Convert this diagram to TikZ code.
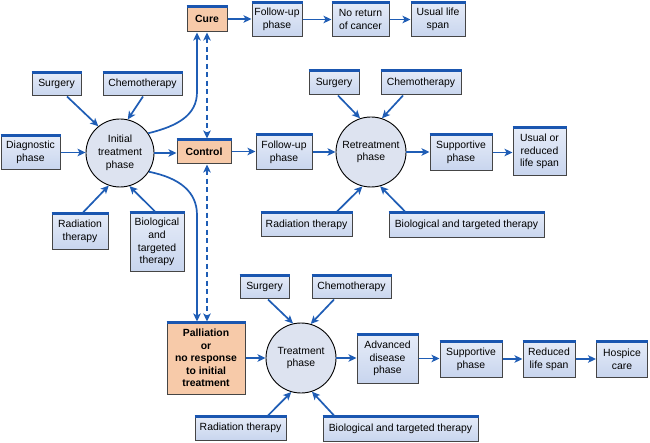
\documentclass[tikz,border=0pt]{standalone}
\usepackage{fontspec}
\setmainfont{Liberation Sans}
\usetikzlibrary{arrows.meta,calc}
\definecolor{arrblue}{HTML}{1F5DB5}
\definecolor{barblue}{HTML}{1A56B0}
\definecolor{boxtop}{HTML}{E6ECF8}
\definecolor{boxbot}{HTML}{C8D5EE}
\definecolor{orangefill}{HTML}{F7CAA9}
\definecolor{circfill}{HTML}{DDE3F0}
\definecolor{boxline}{HTML}{454545}
\begin{document}
\begin{tikzpicture}[x=1pt,y=-1pt,
  font=\fontsize{10.4}{12.8}\selectfont,
  boxbase/.style args={#1/#2}{draw=boxline, line width=1pt, minimum width=#1, minimum height=#2,
    inner sep=0pt, align=center},
  bx/.style={boxbase=#1, top color=boxtop, bottom color=boxbot},
  ob/.style={boxbase=#1, fill=orangefill},
  circ/.style={circle, draw=black, line width=0.9pt, fill=circfill, minimum size=#1, inner sep=0pt, align=center},
  topbar/.style={draw=barblue, line width=3pt},
  arr/.style={draw=arrblue, line width=1.7pt, -{Stealth[length=8pt,width=7.5pt,inset=2pt]}},
  darr/.style={draw=arrblue, line width=1.7pt, dash pattern=on 5pt off 3.5pt,
    {Stealth[length=8pt,width=7.5pt,inset=2pt]}-{Stealth[length=8pt,width=7.5pt,inset=2pt]}}
]
\useasboundingbox (0,0) rectangle (650,443);

% top row
\node[ob=40pt/26pt] (cure) at (207,19) {\textbf{Cure}};
\node[bx=50pt/35pt] (fu1) at (277,19.5) {Follow-up\\phase};
\node[bx=57pt/35pt] (noret) at (360.5,19.5) {No return\\of cancer};
\node[bx=54pt/35pt] (usual1) at (438,19.5) {Usual life\\span};

% initial treatment
\node[bx=49pt/24pt] (surg1) at (56.5,84) {Surgery};
\node[bx=79pt/24pt] (chemo1) at (142.5,84) {Chemotherapy};
\node[bx=59pt/35pt] (diag) at (30.5,152.5) {Diagnostic\\phase};
\node[circ=68pt] (init) at (120,153) {Initial\\treatment\\phase};
\node[bx=56pt/37pt] (rad1) at (80,231.5) {Radiation\\therapy};
\node[bx=54pt/60pt] (bio1) at (157,242) {Biological\\and\\targeted\\therapy};
\node[ob=54pt/25pt] (control) at (204,151.5) {\textbf{Control}};

% retreatment
\node[bx=56pt/36pt] (fu2) at (284,152) {Follow-up\\phase};
\node[circ=70pt] (retr) at (371,152) {Retreatment\\phase};
\node[bx=50pt/25pt] (surg2) at (334,82.5) {Surgery};
\node[bx=80pt/25pt] (chemo2) at (421,82.5) {Chemotherapy};
\node[bx=62pt/37pt] (supp1) at (461,152.5) {Supportive\\phase};
\node[bx=53pt/49pt] (usual2) at (539.5,151.5) {Usual or\\reduced\\life span};
\node[bx=91pt/25pt] (rad2) at (306.5,224.5) {Radiation therapy};
\node[bx=155pt/26pt] (bio2) at (466.5,225) {Biological and targeted therapy};

% palliation
\node[ob=78pt/72pt, font=\fontsize{10.4}{12.5}\selectfont\bfseries] (pall) at (206,358) {Palliation\\or\\no response\\to initial\\treatment};
\node[circ=70pt] (treat) at (301,358) {Treatment\\phase};
\node[bx=49pt/24pt] (surg3) at (264.5,287) {Surgery};
\node[bx=79pt/24pt] (chemo3) at (351.5,287) {Chemotherapy};
\node[bx=61pt/49pt] (adv) at (387.5,358.5) {Advanced\\disease\\phase};
\node[bx=62pt/36pt] (supp2) at (471,359) {Supportive\\phase};
\node[bx=52pt/36pt] (red) at (549,359) {Reduced\\life span};
\node[bx=51pt/36pt] (hosp) at (622,359) {Hospice\\care};
\node[bx=91pt/24pt] (rad3) at (240.5,428) {Radiation therapy};
\node[bx=155pt/25pt] (bio3) at (400.5,428.5) {Biological and targeted therapy};

% blue top bars
\foreach \n in {cure,fu1,noret,usual1,surg1,chemo1,diag,rad1,bio1,control,fu2,surg2,chemo2,supp1,usual2,rad2,bio2,pall,surg3,chemo3,adv,supp2,red,hosp,rad3,bio3}
  \draw[topbar] ([yshift=-1pt]\n.north west) -- ([yshift=-1pt]\n.north east);

\coordinate (vx) at (197,0);

% horizontal chains
\draw[arr] (cure.east) -- (cure.east -| fu1.west);
\draw[arr] (fu1.east) -- (fu1.east -| noret.west);
\draw[arr] (noret.east) -- (noret.east -| usual1.west);
\draw[arr] (diag.east) -- (diag.east -| init.west);
\draw[arr] (init.east) -- (init.east -| control.west);
\draw[arr] (control.east) -- (control.east -| fu2.west);
\draw[arr] (fu2.east) -- (fu2.east -| retr.west);
\draw[arr] (retr.east) -- (retr.east -| supp1.west);
\draw[arr] (supp1.east) -- (supp1.east -| usual2.west);
\draw[arr] (pall.east) -- (pall.east -| treat.west);
\draw[arr] (treat.east) -- (treat.east -| adv.west);
\draw[arr] (adv.east) -- (adv.east -| supp2.west);
\draw[arr] (supp2.east) -- (supp2.east -| red.west);
\draw[arr] (red.east) -- (red.east -| hosp.west);

% inputs to initial treatment
\draw[arr] ($(surg1.south)+(10.5,0)$) -- (init.129);
\draw[arr] ($(chemo1.south)+(0.5,0)$) -- (init.77);
\draw[arr] ($(rad1.north)+(3,0)$) -- (init.-109);
\draw[arr] ($(bio1.north)+(-2,0)$) -- (init.-74);

% inputs to retreatment
\draw[arr] ($(surg2.south)+(4,0)$) -- (retr.108);
\draw[arr] ($(chemo2.south)+(-18,0)$) -- (retr.72);
\draw[arr] ($(rad2.north)+(30.5,0)$) -- (retr.-104);
\draw[arr] ($(bio2.north)+(-61.5,0)$) -- (retr.-75);

% inputs to treatment
\draw[arr] ($(surg3.south)+(3.5,0)$) -- (treat.103);
\draw[arr] ($(chemo3.south)+(-17.5,0)$) -- (treat.74);
\draw[arr] ($(rad3.north)+(27.5,0)$) -- (treat.-106);
\draw[arr] ($(bio3.north)+(-66.5,0)$) -- (treat.-72);

% curved outcomes
\draw[arr] (init.35) .. controls (178,126) and (197,115) .. (197,92) -- (cure.south -| vx);
\draw[arr] (init.-33) .. controls (180,178) and (197,192) .. (197,215) -- (pall.north -| vx);

% dashed links
\draw[darr] (cure.south) -- (cure.south |- control.north);
\draw[darr] (control.south -| cure.south) -- (pall.north -| cure.south);
\end{tikzpicture}
\end{document}
